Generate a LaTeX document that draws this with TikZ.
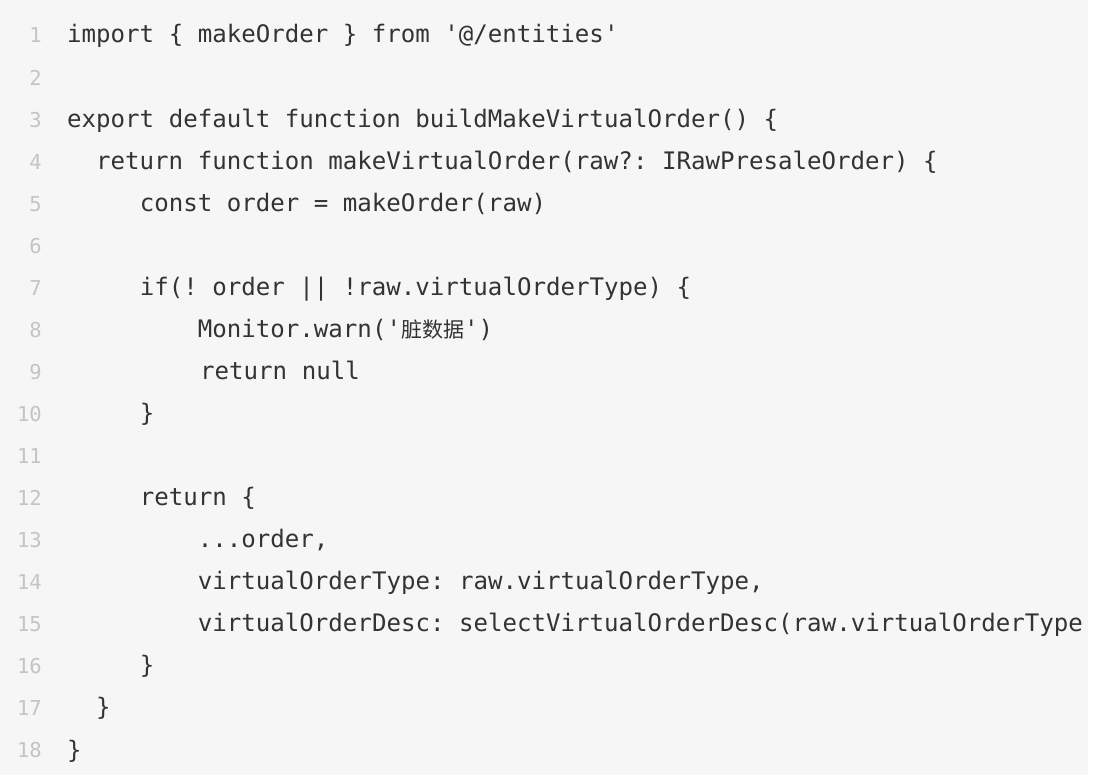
\documentclass[tikz,border=0pt]{standalone}
\usepackage{fontspec}
\setmonofont{DejaVu Sans Mono}
\newfontfamily\cjk{Noto Sans CJK SC}
\definecolor{codebg}{HTML}{F6F6F6}
\definecolor{codetext}{HTML}{333333}
\definecolor{lineno}{HTML}{C4C4C4}

\begin{document}
\begin{tikzpicture}[x=1pt, y=-1pt, anchor=base west, inner sep=0pt,
  code/.style={text=codetext, font=\ttfamily\fontsize{24.1}{24.1}\selectfont},
  num/.style={anchor=base east, text=lineno, font=\ttfamily\fontsize{20.5}{20.5}\selectfont}]

% background
\useasboundingbox (0,0) rectangle (1098,775);
\fill[codebg] (0,0) rectangle (1088,775);

% line numbers
\foreach \i in {1,...,18}
  \node[num] (n\i) at ({42},{43+42.05*(\i-1)}) {\i};

% code
\node[code] (c1) at (67,43) {import \{ makeOrder \} from '@/entities'};
\node[code] (c3) at (67,127.1) {export default function buildMakeVirtualOrder() \{};
\node[code] (c4) at (96,169.2) {return function makeVirtualOrder(raw?: IRawPresaleOrder) \{};
\node[code] (c5) at (139.6,211.2) {const order = makeOrder(raw)};
\node[code] (c7) at (139.6,295.3) {if(! order || !raw.virtualOrderType) \{};
\node[code] (c8) at (197.7,337.4) {Monitor.warn('{\cjk\fontsize{21}{21}\selectfont 脏数据}')};
\node[code] (c9) at (200,379.4) {return null};
\node[code] (c10) at (139.6,421.5) {\}};
\node[code] (c12) at (139.6,505.6) {return \{};
\node[code] (c13) at (197.7,547.6) {...order,};
\node[code] (c14) at (197.7,589.7) {virtualOrderType: raw.virtualOrderType,};
\node[code] (c15) at (197.7,631.7) {virtualOrderDesc: selectVirtualOrderDesc(raw.virtualOrderType};
\node[code] (c16) at (139.6,673.8) {\}};
\node[code] (c17) at (96,715.9) {\}};
\node[code] (c18) at (67,758) {\}};

\fill[white] (1088,0) rectangle (1098,775);
\end{tikzpicture}
\end{document}
